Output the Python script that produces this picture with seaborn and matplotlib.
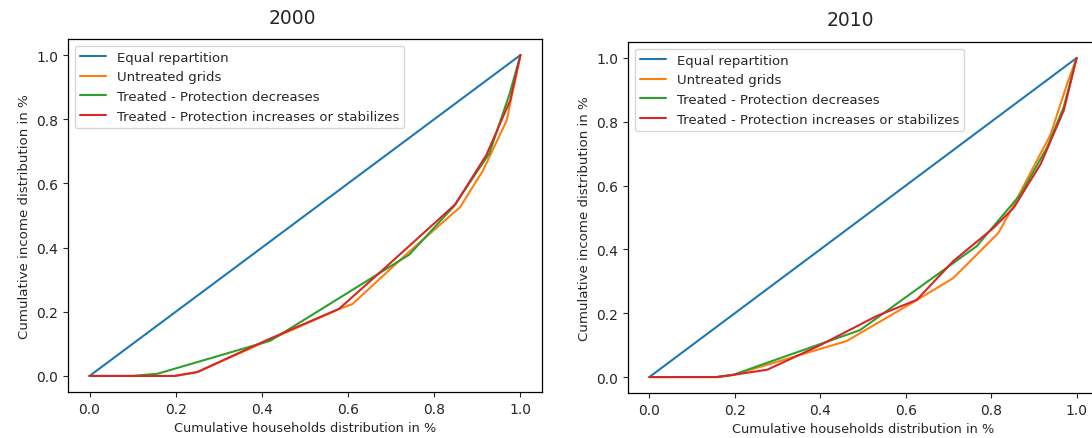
import matplotlib
matplotlib.use("Agg")
import matplotlib.pyplot as plt
import seaborn as sns

sns.set_style("ticks")
plt.rcParams["font.family"] = ["DejaVu Sans"]

LABELS = ["Equal repartition", "Untreated grids",
          "Treated - Protection decreases",
          "Treated - Protection increases or stabilizes"]
COLORS = ["#1f77b4", "#ff7f0e", "#2ca02c", "#d62728"]

# 2000
eq_x = [0.0, 1.0]
eq_y = [0.0, 1.0]
untr00_x = [0.0, 0.2, 0.25, 0.42, 0.58, 0.61, 0.74, 0.86, 0.913, 0.968, 1.0]
untr00_y = [0.0, 0.0, 0.012, 0.114, 0.209, 0.224, 0.385, 0.526, 0.64, 0.796, 1.0]
dec00_x = [0.0, 0.1, 0.158, 0.42, 0.742, 0.845, 0.928, 0.975, 1.0]
dec00_y = [0.0, 0.0, 0.007, 0.11, 0.378, 0.528, 0.694, 0.88, 1.0]
inc00_x = [0.0, 0.196, 0.25, 0.415, 0.579, 0.68, 0.849, 0.921, 0.976, 1.0]
inc00_y = [0.0, 0.0, 0.012, 0.114, 0.209, 0.33, 0.535, 0.689, 0.858, 1.0]

# 2010
untr10_x = [0.0, 0.158, 0.197, 0.462, 0.627, 0.711, 0.817, 0.845, 0.939, 0.978, 1.0]
untr10_y = [0.0, 0.0, 0.007, 0.113, 0.242, 0.31, 0.452, 0.52, 0.76, 0.92, 1.0]
dec10_x = [0.0, 0.158, 0.197, 0.259, 0.493, 0.711, 0.766, 0.869, 0.931, 0.97, 1.0]
dec10_y = [0.0, 0.0, 0.007, 0.037, 0.147, 0.357, 0.41, 0.573, 0.72, 0.847, 1.0]
inc10_x = [0.0, 0.158, 0.197, 0.276, 0.40, 0.53, 0.626, 0.711, 0.806, 0.853, 0.916, 0.97, 1.0]
inc10_y = [0.0, 0.0, 0.007, 0.023, 0.10, 0.19, 0.242, 0.363, 0.468, 0.531, 0.668, 0.836, 1.0]

panels = [
    ("2000", [(eq_x, eq_y), (untr00_x, untr00_y), (dec00_x, dec00_y), (inc00_x, inc00_y)]),
    ("2010", [(eq_x, eq_y), (untr10_x, untr10_y), (dec10_x, dec10_y), (inc10_x, inc10_y)]),
]

fig = plt.figure(figsize=(10.92, 4.39), dpi=100)
ax1 = fig.add_axes([68 / 1092, 1 - 393 / 439, 474 / 1092, 353 / 439])
ax2 = fig.add_axes([628 / 1092, 1 - 394 / 439, 470 / 1092, 351 / 439])

for ax, (title, series) in zip([ax1, ax2], panels):
    for (xs, ys), lab, col in zip(series, LABELS, COLORS):
        sns.lineplot(x=xs, y=ys, ax=ax, label=lab, color=col,
                     estimator=None, sort=False, linewidth=1.5)
    ax.set_xticks([0.0, 0.2, 0.4, 0.6, 0.8, 1.0])
    ax.set_yticks([0.0, 0.2, 0.4, 0.6, 0.8, 1.0])
    ax.set_xlabel("Cumulative households distribution in %", fontsize=9.3)
    ax.set_ylabel("Cumulative income distribution in %", fontsize=9.6)
    ax.legend(loc="upper left", fontsize=9.5)
    for s in ax.spines.values():
        s.set_color("black")
        s.set_linewidth(0.9)

fig.text(292 / 1092, 1 - 18 / 439, "2000", ha="center", va="center", fontsize=13.5)
fig.text(850 / 1092, 1 - 20 / 439, "2010", ha="center", va="center", fontsize=13.5)

fig.savefig("out.png", dpi=100)
